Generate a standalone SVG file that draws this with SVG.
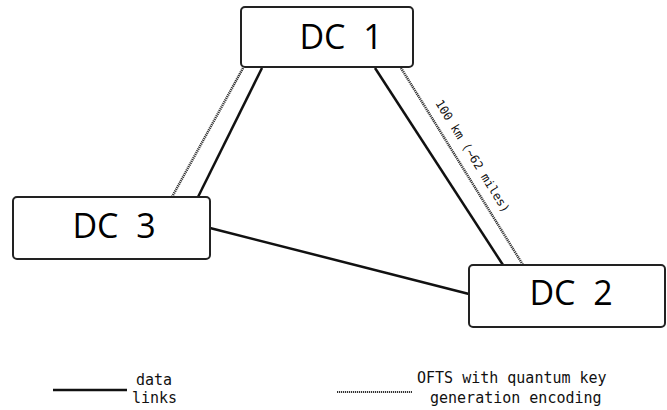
<svg xmlns="http://www.w3.org/2000/svg" width="667" height="410" viewBox="0 0 667 410">
<style>
.box{fill:#fff;stroke:#222;stroke-width:2}
.lbl{font-family:"Open Sans","Noto Sans",sans-serif;font-size:34px;fill:#000}
.data{stroke:#111;stroke-width:2.5;fill:none}
.ofts{stroke:#333;stroke-width:2.5;stroke-dasharray:1.2 0.8;fill:none}
.mono{font-family:"DejaVu Sans Mono",monospace;fill:#111}
</style>
<rect width="667" height="410" fill="#fff"/>
<g id="connectors">
<line class="ofts" x1="243" y1="68" x2="172" y2="197"/>
<line class="data" x1="262" y1="68" x2="198" y2="197"/>
<line class="data" x1="375" y1="68" x2="503" y2="265"/>
<line class="ofts" x1="401" y1="68" x2="523" y2="265"/>
<line class="data" x1="210" y1="228" x2="469" y2="294"/>
<text class="mono" font-size="12" transform="translate(435,103) rotate(58.3)">100 km (~62 miles)</text>
</g>
<g id="dc1">
<rect class="box" x="241" y="7" width="172" height="60" rx="4"/>
<text class="lbl" x="341" y="49" text-anchor="middle" xml:space="preserve">DC  1</text>
</g>
<g id="dc3">
<rect class="box" x="13" y="197" width="197" height="62" rx="4"/>
<text class="lbl" x="114" y="238" text-anchor="middle" xml:space="preserve">DC  3</text>
</g>
<g id="dc2">
<rect class="box" x="469" y="265" width="196" height="62" rx="4"/>
<text class="lbl" x="571" y="305" text-anchor="middle" xml:space="preserve">DC  2</text>
</g>
<g id="legend">
<line class="data" x1="53" y1="390" x2="127" y2="390"/>
<text class="mono" font-size="15" x="136" y="385">data</text>
<text class="mono" font-size="15" x="132" y="403">links</text>
<line class="ofts" x1="337" y1="392" x2="412" y2="392" style="stroke-width:2"/>
<text class="mono" font-size="15" x="417" y="383">OFTS with quantum key</text>
<text class="mono" font-size="15" x="430" y="403">generation encoding</text>
</g>
</svg>
